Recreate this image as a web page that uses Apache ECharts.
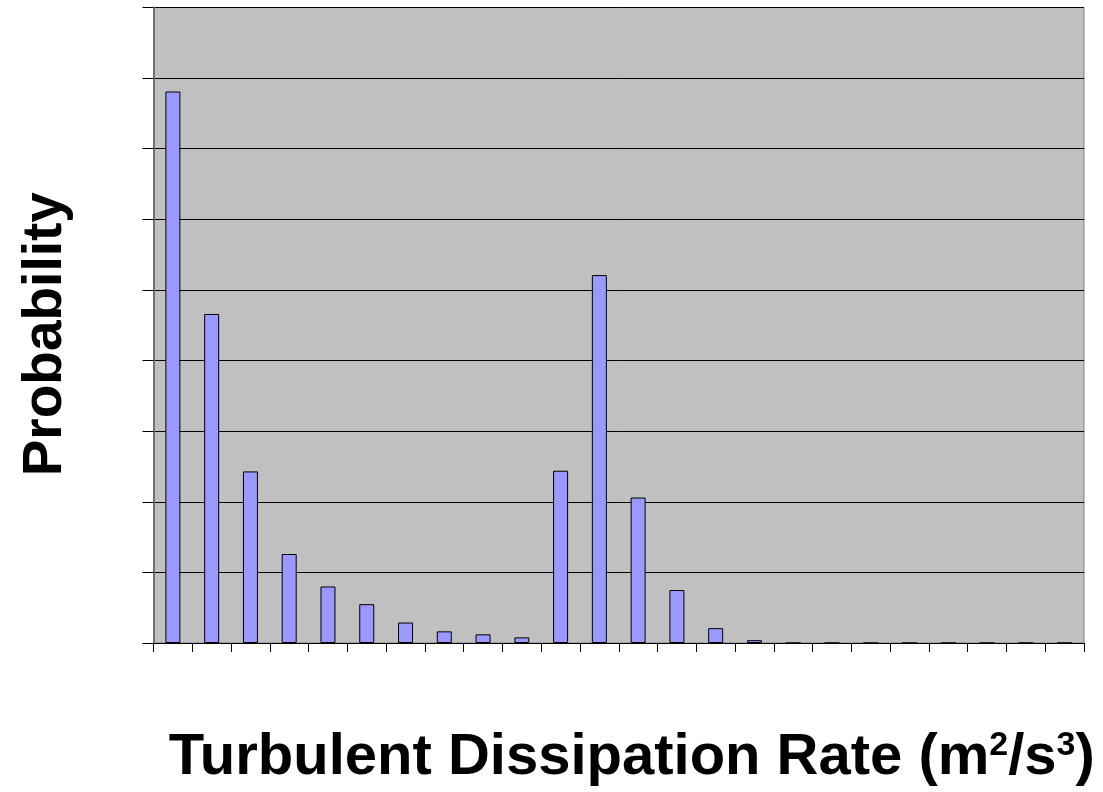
<!DOCTYPE html>
<html>
<head>
<meta charset="utf-8">
<script src="https://cdn.jsdelivr.net/npm/echarts@6/dist/echarts.min.js"></script>
<style>
  html, body { margin: 0; padding: 0; background: #fff; }
  #chart { width: 1103px; height: 792px; }
</style>
</head>
<body>
<div id="chart"></div>
<script>
// bins along the dissipation-rate axis (labels are not shown on the original)
var bins = ["1", "2", "3", "4", "5", "6", "7", "8", "9", "10", "11", "12",
            "13", "14", "15", "16", "17", "18", "19", "20", "21", "22", "23", "24"];
// probability per bin, read in gridline units (axis runs 0..9)
var probability = [7.81, 4.66, 2.43, 1.26, 0.80, 0.55, 0.29, 0.165, 0.123, 0.08,
                   2.44, 5.21, 2.06, 0.75, 0.21, 0.04, 0, 0, 0, 0, 0, 0, 0, 0];
var yTicks = { min: 0, max: 9, step: 1 };

var chart = echarts.init(document.getElementById("chart"));

var option = {
  animation: false,
  grid: {
    left: 153.5,
    right: 19,
    top: 7.5,
    bottom: 148,
    show: true,
    backgroundColor: "#C0C0C0",
    borderColor: "#808080",
    borderWidth: 1
  },
  xAxis: {
    type: "category",
    data: bins,
    boundaryGap: true,
    name: "{t|Turbulent Dissipation Rate (m}{s|2}{t|/s}{s|3}{t|)}",
    nameLocation: "middle",
    nameGap: 86,
    nameTextStyle: {
      padding: [0, 0, 0, 26],
      rich: {
        t: { fontFamily: "Liberation Sans, Arial", fontWeight: "bold", fontSize: 58, color: "#000", verticalAlign: "bottom" },
        s: { fontFamily: "Liberation Sans, Arial", fontWeight: "bold", fontSize: 34, color: "#000", verticalAlign: "top" }
      }
    },
    axisLine: { show: true, lineStyle: { color: "#000", width: 1 } },
    axisTick: { show: true, interval: 0, length: 9, lineStyle: { color: "#000", width: 1 } },
    axisLabel: { show: false },
    splitLine: { show: false }
  },
  yAxis: {
    type: "value",
    min: yTicks.min,
    max: yTicks.max,
    interval: yTicks.step,
    name: "Probability",
    nameLocation: "middle",
    nameGap: 80,
    nameTextStyle: {
      fontFamily: "Liberation Sans, Arial",
      fontWeight: "bold",
      fontSize: 55,
      color: "#000",
      padding: [0, 18, 0, 0]
    },
    axisLine: { show: true, lineStyle: { color: "#707070", width: 2 } },
    axisTick: { show: true, length: 11, lineStyle: { color: "#000", width: 1 } },
    axisLabel: { show: false },
    splitLine: { show: true, lineStyle: { color: "#000", width: 1, type: "solid" } }
  },
  series: [
    {
      type: "bar",
      data: probability,
      barWidth: 15,
      itemStyle: {
        color: "#9999FF",
        borderColor: "#000",
        borderWidth: 1
      }
    }
  ]
};

chart.setOption(option);
</script>
</body>
</html>
